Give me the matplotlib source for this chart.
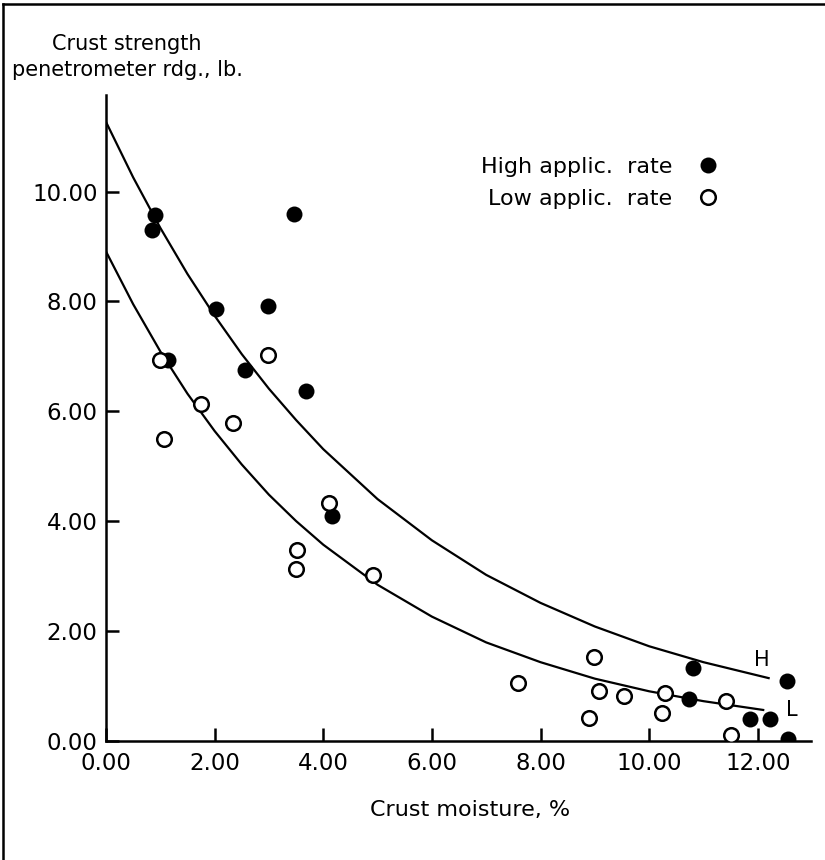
#  Crust strength vs crust moisture
import numpy as np
import matplotlib
matplotlib.use("Agg")
import matplotlib.pyplot as plt
from matplotlib.lines import Line2D

plt.rcParams['font.family'] = ['DejaVu Sans']

# High application rate (filled circles)
high_x = [0.84, 0.90, 1.14, 2.02, 2.56, 2.98, 3.46, 3.68, 4.17,
          10.73, 10.80, 11.86, 12.22, 12.54, 12.55]
high_y = [9.31, 9.58, 6.93, 7.86, 6.76, 7.91, 9.59, 6.37, 4.09,
          0.76, 1.32, 0.40, 0.40, 1.09, 0.04]

# Low application rate (open circles)
low_x = [0.99, 1.07, 1.75, 2.34, 2.98, 3.50, 3.52, 4.11, 4.91,
         7.59, 8.89, 8.99, 9.08, 9.53, 10.23, 10.30, 11.42, 11.51]
low_y = [6.93, 5.49, 6.13, 5.78, 7.03, 3.12, 3.47, 4.33, 3.01,
         1.05, 0.41, 1.53, 0.91, 0.82, 0.50, 0.86, 0.73, 0.10]

# Fitted curves
curve_h_x = [0, 0.5, 1, 1.5, 2, 2.5, 3, 3.5, 4, 5, 6, 7, 8, 9, 10, 11, 12.2]
curve_h_y = [11.27, 10.26, 9.34, 8.50, 7.74, 7.04, 6.41, 5.84, 5.31,
             4.40, 3.65, 3.02, 2.51, 2.08, 1.72, 1.43, 1.14]
curve_l_x = [0, 0.5, 1, 1.5, 2, 2.5, 3, 3.5, 4, 5, 6, 7, 8, 9, 10, 11, 12.1]
curve_l_y = [8.91, 7.95, 7.09, 6.32, 5.64, 5.03, 4.48, 4.00, 3.57,
             2.84, 2.26, 1.79, 1.43, 1.13, 0.90, 0.72, 0.56]

x_ticks = [0, 2, 4, 6, 8, 10, 12]
y_ticks = [0, 2, 4, 6, 8, 10]

fig = plt.figure(figsize=(8.25, 8.6), dpi=100)
ax = fig.add_axes([106 / 825, 119.3 / 860, 705 / 825, 645.7 / 860])

ax.plot(curve_h_x, curve_h_y, color='black', lw=1.6)
ax.plot(curve_l_x, curve_l_y, color='black', lw=1.6)

ax.plot(high_x, high_y, 'o', color='black', ms=11.5, mew=0,
        label='High applic.  rate', zorder=3)
ax.plot(low_x, low_y, 'o', mfc='white', mec='black', ms=10.5, mew=1.8,
        label='Low applic.  rate', zorder=3)

ax.text(12.07, 1.47, 'H', fontsize=15, ha='center', va='center')
ax.text(12.63, 0.56, 'L', fontsize=15, ha='center', va='center')

ax.set_xlim(0, 12.98)
ax.set_ylim(0, 11.76)
ax.set_xticks(x_ticks)
ax.set_yticks(y_ticks)
ax.set_xticklabels([f'{v:.2f}' for v in x_ticks])
ax.set_yticklabels([f'{v:.2f}' for v in y_ticks])
ax.tick_params(direction='in', length=9.5, width=1.8, labelsize=16.5)
ax.tick_params(axis='y', pad=6)
ax.tick_params(axis='x', pad=8)
for s in ['top', 'right']:
    ax.spines[s].set_visible(False)
for s in ['left', 'bottom']:
    ax.spines[s].set_linewidth(1.8)

ax.legend(loc='upper right', bbox_to_anchor=(719 / 825, 1 - 157 / 860),
          bbox_transform=fig.transFigure, frameon=False, markerfirst=False,
          fontsize=16, handlelength=1, handletextpad=1.1, labelspacing=0.55,
          borderpad=0, borderaxespad=0)

fig.text(127 / 825, 1 - 57 / 860, 'Crust strength\npenetrometer rdg., lb.',
         fontsize=15, ha='center', va='center', multialignment='center',
         linespacing=1.4)
fig.text(470 / 825, 1 - 810 / 860, 'Crust moisture, %', fontsize=16,
         ha='center', va='center')

# frame lines around the figure
fig.add_artist(Line2D([3 / 825, 3 / 825], [0, 1 - 4 / 860], color='black', lw=1.8))
fig.add_artist(Line2D([3 / 825, 1], [1 - 4 / 860, 1 - 4 / 860], color='black', lw=1.8))

fig.savefig('out.png', dpi=100)
